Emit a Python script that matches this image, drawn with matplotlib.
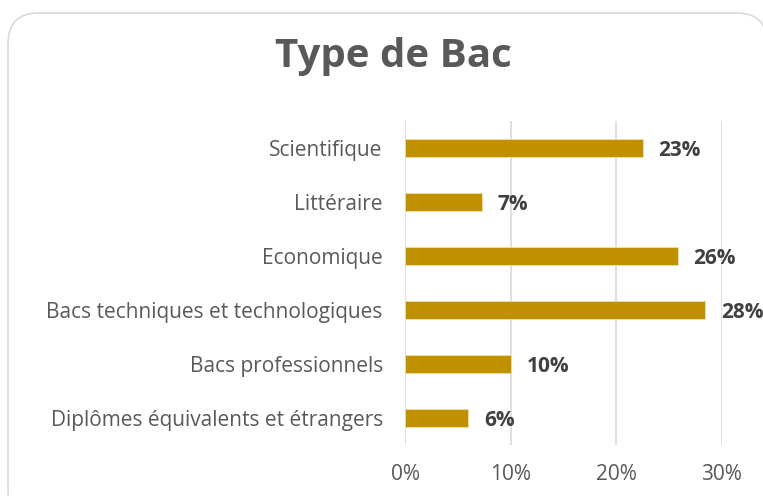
import matplotlib.pyplot as plt
from matplotlib.patches import FancyBboxPatch
from matplotlib.ticker import FuncFormatter

categories = ["Scientifique", "Littéraire", "Economique",
              "Bacs techniques et technologiques", "Bacs professionnels",
              "Diplômes équivalents et étrangers"]
values = [0.225, 0.073, 0.258, 0.284, 0.100, 0.060]
labels = ["23%", "7%", "26%", "28%", "10%", "6%"]

plt.rcParams['font.family'] = ['Open Sans', 'DejaVu Sans']

fig = plt.figure(figsize=(7.63, 4.96), dpi=100)
box = FancyBboxPatch((8 / 763, -0.05), 0.995, 1 - 13 / 496 + 0.05,
                     boxstyle="round,pad=0,rounding_size=0.04",
                     transform=fig.transFigure, facecolor="white",
                     edgecolor="#d9d9d9", linewidth=1.2, mutation_aspect=763 / 496,
                     zorder=-1)
fig.patches.append(box)

ax = fig.add_axes([405 / 763, 1 - 445 / 496, (722 - 405) / 763, (445 - 121) / 496])
ax.patch.set_alpha(0)
y = list(range(len(categories)))
ax.barh(y, values, height=0.34, color="#BF9000", edgecolor="#f2dfa8", linewidth=0.6, zorder=3)
for yi, v, lab in zip(y, values, labels):
    ax.text(v + 0.015, yi, lab, va="center_baseline", ha="left", fontsize=15,
            fontweight="bold", color="#404040", clip_on=False)

ax.set_xlim(0, 0.30)
ax.set_ylim(len(categories) - 0.5, -0.5)
ax.set_xticks([0, 0.1, 0.2, 0.3])
ax.xaxis.set_major_formatter(FuncFormatter(lambda x, p: f"{x * 100:.0f}%"))
ax.set_yticks(y)
ax.set_yticklabels(categories, va="center_baseline")
ax.tick_params(axis="both", length=0, labelsize=15, labelcolor="#595959")
ax.tick_params(axis="x", pad=14)
ax.tick_params(axis="y", pad=16)
ax.grid(axis="x", color="#d9d9d9", linewidth=1.2, zorder=0)
for s in ax.spines.values():
    s.set_visible(False)

fig.text(393 / 763, 1 - 56 / 496, "Type de Bac", ha="center", va="center",
         fontsize=29, fontweight="bold", color="#595959")

fig.savefig("out.png", dpi=100)
